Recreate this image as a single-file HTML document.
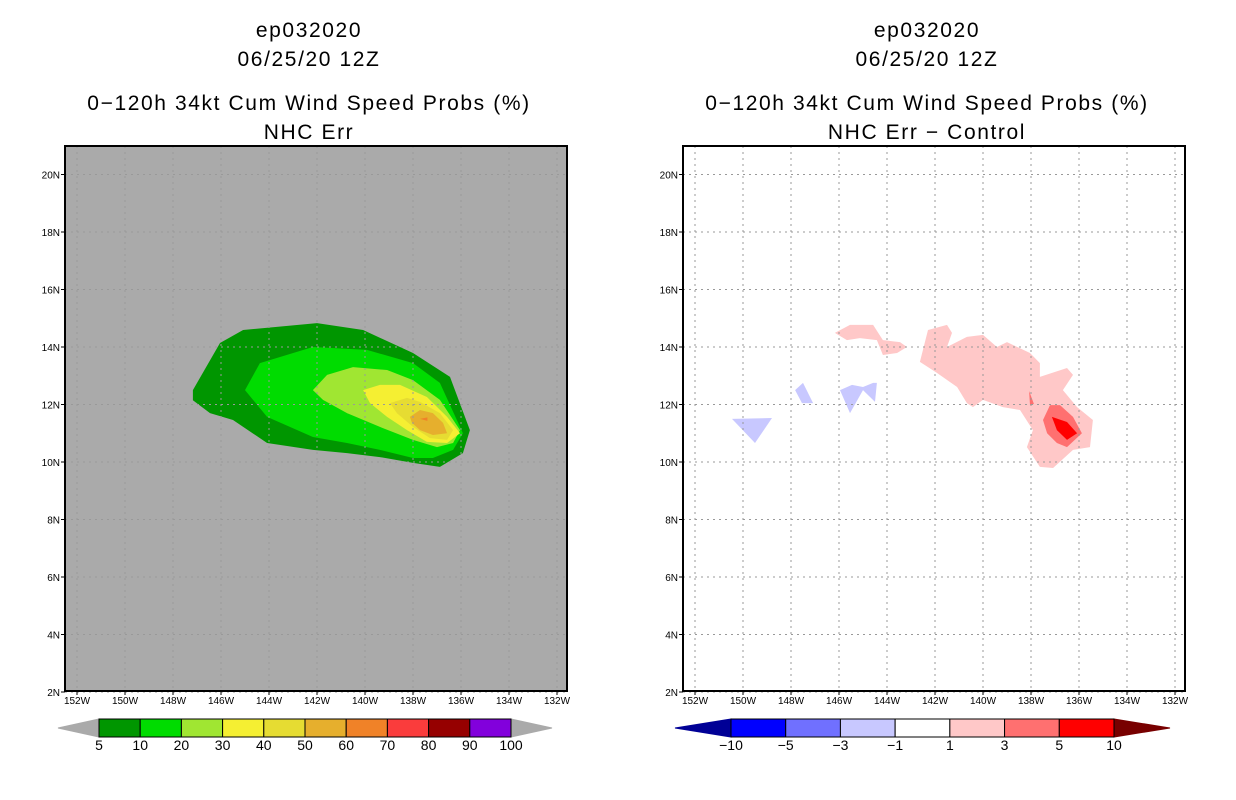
<!DOCTYPE html>
<html><head><meta charset="utf-8"><style>
body{margin:0;background:#fff;}
svg{display:block;font-family:"Liberation Sans",sans-serif;}
.t{font-size:21px;letter-spacing:1.6px;text-anchor:middle;fill:#000}
.tk{font-size:10px;fill:#000}
.cb{font-size:14px;text-anchor:middle;fill:#000}
</style></head><body>
<svg id="s" width="1236" height="800" viewBox="0 0 1236 800">
<g>
<text class="t" x="309" y="37">ep032020</text>
<text class="t" x="309" y="66">06/25/20 12Z</text>
<text class="t" x="309" y="110">0−120h 34kt Cum Wind Speed Probs (%)</text>
<text class="t" x="309" y="139">NHC Err</text>
</g>
<g>
<text class="t" x="927" y="37">ep032020</text>
<text class="t" x="927" y="66">06/25/20 12Z</text>
<text class="t" x="927" y="110">0−120h 34kt Cum Wind Speed Probs (%)</text>
<text class="t" x="927" y="139">NHC Err − Control</text>
</g>
<g id="L"></g>
<g id="R"></g>
<g id="CB"></g>
</svg>
<script>
// axis ticks
const lonTicks=[152,150,148,146,144,142,140,138,136,134,132];
const latTicks=[2,4,6,8,10,12,14,16,18,20];
// left panel: probability contour polygons [lonW,lat]
const p5_10=[[147.17,12.5],[146.04,14.14],[145.08,14.59],[142.0,14.83],[140.08,14.59],[138.0,13.79],[136.46,12.96],[135.63,11.11],[135.92,10.31],[136.88,9.83],[138.0,9.97],[139.38,10.17],[140.75,10.31],[142.17,10.42],[144.08,10.66],[145.5,11.46],[146.46,11.7],[147.17,12.15]];
const p10_20=[[145.0,12.5],[144.38,13.44],[142.17,14.0],[139.92,13.9],[138.0,13.44],[136.88,12.75],[135.92,11.0],[136.33,10.42],[137.17,10.14],[138.0,10.14],[139.38,10.42],[140.75,10.66],[142.17,10.87],[144.08,11.57]];
const p20_30=[[142.17,12.5],[141.58,13.03],[140.5,13.3],[139.08,13.2],[138.0,12.85],[136.88,12.16],[136.04,11.11],[136.33,10.66],[137.0,10.52],[138.0,10.77],[139.38,11.22],[140.75,11.7],[141.75,12.16]];
const p30_40=[[140.08,12.5],[139.38,12.68],[138.54,12.68],[137.42,12.26],[136.58,11.57],[136.04,11.0],[136.58,10.66],[137.42,10.7],[138.25,11.11],[139.08,11.57],[139.79,12.05]];
const p40_50=[[138.96,12.05],[138.25,12.23],[137.71,12.09],[136.88,11.7],[136.33,11.11],[136.58,10.77],[137.29,10.83],[138.0,11.22],[138.67,11.7]];
const p50_60=[[138.13,11.57],[137.71,11.81],[137.17,11.7],[136.75,11.36],[136.58,11.0],[137.17,10.94],[137.71,11.11],[138.04,11.36]];
const p60_70=[[137.71,11.5],[137.4,11.55],[137.4,11.43]];
// right panel: difference polygons
const d1_3a=[[142.63,13.48],[142.29,14.59],[141.5,14.77],[141.29,14.49],[141.5,14.0],[140.67,14.35],[140.0,14.42],[139.42,14.0],[139.0,14.17],[138.04,13.79],[137.63,13.44],[137.63,12.96],[136.5,13.27],[136.25,13.03],[136.67,12.5],[136.08,11.91],[135.42,11.46],[135.54,10.52],[136.25,10.42],[137.08,9.79],[137.63,9.83],[138.17,10.52],[137.92,11.11],[138.46,11.81],[139.17,11.91],[140.0,12.16],[140.42,11.91],[140.67,12.05],[141.08,12.61],[141.92,13.1]];
const d1_3b=[[146.17,14.49],[145.54,14.77],[144.58,14.77],[144.17,14.24],[143.46,14.17],[143.17,14.0],[143.58,13.79],[144.17,13.72],[144.42,14.24],[145.13,14.31],[145.67,14.24]];
const d3_5a=[[137.5,11.46],[137.21,11.98],[136.79,11.98],[136.25,11.57],[135.88,11.0],[136.5,10.52],[136.92,10.66],[137.33,11.0]];
const d3_5b=[[138.08,12.47],[137.88,12.02],[138.04,11.98]];
const d5_10=[[137.13,11.57],[136.5,11.39],[136.08,11.0],[136.5,10.77],[136.92,11.11]];
const dm3a=[[150.46,11.5],[148.79,11.53],[149.5,10.66]];
const dm3b=[[147.83,12.5],[147.5,12.75],[147.08,12.05],[147.54,12.05]];
const dm3c=[[145.96,12.5],[145.46,12.68],[145.0,12.61],[144.58,12.75],[144.42,12.75],[144.5,12.09],[145.0,12.5],[145.54,11.7]];
// colorbars
const probLevels=['5','10','20','30','40','50','60','70','80','90','100'];
const probColors=['#009600','#00dc00','#a0e632','#f5ef32','#e6dc32','#e6af2d','#f08228','#fa3c3c','#960000','#8200dc'];
const diffLevels=['−10','−5','−3','−1','1','3','5','10'];
const diffColors=['#0000ff','#7070ff','#c8c8ff','#ffffff','#ffc8c8','#ff7070','#ff0000'];

const NS='http://www.w3.org/2000/svg';
function mk(tag,attrs,parent){const e=document.createElementNS(NS,tag);for(const k in attrs)e.setAttribute(k,attrs[k]);parent.appendChild(e);return e;}
function panel(g,ox,bg){
  const xs=lw=>ox+77+(152-lw)*24, ys=la=>692-(la-2)*28.75;
  const r=mk('rect',{x:ox+65,y:146,width:502,height:545,fill:bg},g);
  
  return {xs,ys};
}
function poly(g,ax,pts,col,name){
  const p=mk('polygon',{points:pts.map(q=>ax.xs(q[0]).toFixed(1)+','+ax.ys(q[1]).toFixed(1)).join(' '),fill:col},g);
  
  
}
function frame(g,ax,ox){
  const gg=mk('g',{},g);
  
  
  lonTicks.forEach(l=>{mk('line',{x1:ax.xs(l),x2:ax.xs(l),y1:146,y2:691,stroke:'#999','stroke-width':1,'stroke-dasharray':'2,4'},gg);});
  latTicks.forEach(l=>{mk('line',{x1:ox+65,x2:ox+567,y1:ax.ys(l),y2:ax.ys(l),stroke:'#999','stroke-width':1,'stroke-dasharray':'2,4'},gg);});
  const f=mk('rect',{x:ox+65,y:146,width:502,height:545,fill:'none',stroke:'#000','stroke-width':2},g);
  
  lonTicks.forEach(l=>{
    mk('line',{x1:ax.xs(l),x2:ax.xs(l),y1:691,y2:695,stroke:'#000'},g);
    const t=mk('text',{x:ax.xs(l),y:704,'text-anchor':'middle',class:'tk'},g);t.textContent=l+'W';
    
  });
  latTicks.forEach(l=>{
    mk('line',{x1:ox+61,x2:ox+65,y1:ax.ys(l),y2:ax.ys(l),stroke:'#000'},g);
    const t=mk('text',{x:ox+60,y:ax.ys(l)+4,'text-anchor':'end',class:'tk'},g);t.textContent=l+'N';
    
  });
}
const L=document.getElementById('L'),R=document.getElementById('R'),CB=document.getElementById('CB');
const al=panel(L,0,'#aaaaaa');
poly(L,al,p5_10,probColors[0],'contour-5-10');
poly(L,al,p10_20,probColors[1],'contour-10-20');
poly(L,al,p20_30,probColors[2],'contour-20-30');
poly(L,al,p30_40,probColors[3],'contour-30-40');
poly(L,al,p40_50,probColors[4],'contour-40-50');
poly(L,al,p50_60,probColors[5],'contour-50-60');
poly(L,al,p60_70,probColors[6],'contour-60-70');
frame(L,al,0);
const ar=panel(R,618,'#ffffff');
poly(R,ar,d1_3a,diffColors[4],'diff-1-3-main');
poly(R,ar,d1_3b,diffColors[4],'diff-1-3-west');
poly(R,ar,d3_5a,diffColors[5],'diff-3-5');
poly(R,ar,d3_5b,diffColors[5],'diff-3-5-sliver');
poly(R,ar,d5_10,diffColors[6],'diff-5-10');
poly(R,ar,dm3a,diffColors[2],'diff-neg-a');
poly(R,ar,dm3b,diffColors[2],'diff-neg-b');
poly(R,ar,dm3c,diffColors[2],'diff-neg-c');
frame(R,ar,618);

function colorbar(x0,x1,tri,colors,labels,lc,rc,name){
  const g=mk('g',{},CB);
  
  
  const y0=719,y1=737,ym=728,w=(x1-x0)/colors.length;
  mk('polygon',{points:`${x0},${y0} ${x0-tri},${ym} ${x0},${y1}`,fill:lc,stroke:lc},g);
  mk('polygon',{points:`${x1},${y0} ${x1+tri},${ym} ${x1},${y1}`,fill:rc,stroke:rc},g);
  colors.forEach((c,i)=>{mk('rect',{x:x0+i*w,y:y0,width:w,height:y1-y0,fill:c,stroke:'#000','stroke-width':1},g);});
  labels.forEach((l,i)=>{const t=mk('text',{x:x0+i*w,y:750,class:'cb'},g);t.textContent=l;
    });
}
colorbar(99,511,41,probColors,probLevels,'#aaaaaa','#aaaaaa','prob-colorbar');
colorbar(731,1114,56,diffColors,diffLevels,'#000096','#780000','diff-colorbar');
</script>
</body></html>
